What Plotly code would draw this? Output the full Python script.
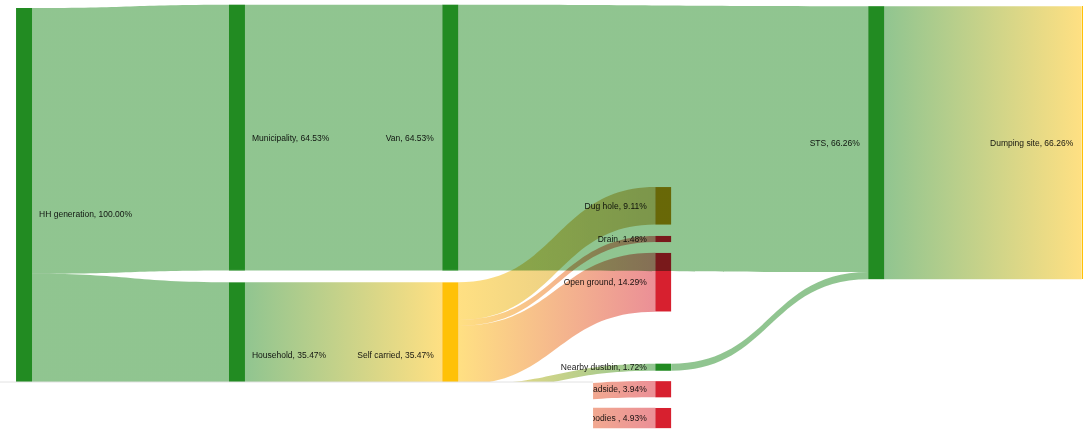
import json
import plotly.graph_objects as go

# ---------------- data ----------------
node_names = ["HH generation", "Municipality", "Household", "Van", "Self carried",
              "Dug hole", "Drain", "Open ground", "Nearby dustbin", "Roadside",
              "Water bodies ", "STS", "Dumping site"]
node_pct = [100.00, 64.53, 35.47, 64.53, 35.47, 9.11, 1.48, 14.29, 1.72, 3.94, 4.93, 66.26, 66.26]

link_source = [0, 0, 1, 2, 3, 4, 4, 4, 4, 4, 4, 8, 11]
link_target = [1, 2, 3, 4, 11, 5, 6, 7, 8, 9, 10, 11, 12]
link_value = [64.53, 35.47, 64.53, 35.47, 64.53, 9.11, 1.48, 14.29, 1.72, 3.94, 4.93, 1.72, 66.26]

# ---------------- styling ----------------
GREEN = "#228B22"
AMBER = "#FFC107"
GOLD = "#B8860B"
RED = "#D7202F"
node_colors = [GREEN, GREEN, GREEN, GREEN, AMBER, GOLD, RED, RED, GREEN, RED, RED, GREEN, AMBER]

# node centre positions (fraction of domain)
node_x = [0.0222, 0.2188, 0.2188, 0.4158, 0.4158, 0.6125, 0.6125, 0.6125,
          0.6125, 0.6125, 0.6125, 0.8091, 1.0062]
node_y = [0.4941, 0.3135, 0.8284, 0.3135, 0.8284, 0.4747, 0.5532, 0.6553,
          0.8563, 0.9083, 0.9764, 0.3255, 0.3255]
# label side: True -> label drawn to the left of the node
label_left = [False, False, False, True, True, True, True, True, True, True, True, True, True]


def rgba(hexc, a):
    h = hexc.lstrip("#")
    r, g, b = int(h[0:2], 16), int(h[2:4], 16), int(h[4:6], 16)
    return f"rgba({r},{g},{b},{a})"


labels = [f"{n}, {p:.2f}%" for n, p in zip(node_names, node_pct)]
link_colors = [rgba(node_colors[s], 0.5) for s in link_source]

fig = go.Figure(go.Sankey(
    arrangement="fixed",
    node=dict(
        label=labels,
        color=node_colors,
        x=node_x,
        y=node_y,
        pad=11,
        thickness=16,
        align="left",
        line=dict(width=0),
    ),
    link=dict(
        source=link_source,
        target=link_target,
        value=link_value,
        color=link_colors,
    ),
    textfont=dict(family="Liberation Sans, Arial, sans-serif", size=8.5, color="#222222", shadow="none"),
    hoverinfo="none",
))

# white cover (cropped screenshot region, bottom-left)
fig.add_shape(type="rect", xref="paper", yref="paper", x0=-0.01, x1=0.5476, y0=-0.05, y1=0.1087,
              fillcolor="white", line=dict(width=0), layer="above")
fig.add_shape(type="line", xref="paper", yref="paper", x0=-0.01, x1=0.5476, y0=0.1087, y1=0.1087,
              line=dict(color="#e2e2e2", width=1), layer="above")

fig.update_layout(
    width=1083, height=432,
    margin=dict(l=0, r=0, t=5, b=4),
    paper_bgcolor="white",
    plot_bgcolor="white",
)

src_cols = [node_colors[s] for s in link_source]
tgt_cols = [node_colors[t] for t in link_target]

post = """
document.body.style.margin='0';
(function(){
var gd = document.getElementById('{plot_id}');
var SRC = %s, TGT = %s, LEFT = %s;
var NS='http://www.w3.org/2000/svg';
var svg = gd.querySelector('svg.main-svg');
var defs = svg.querySelector('defs');
var links = gd.querySelectorAll('path.sankey-link');
links.forEach(function(p, i){
  var d = p.__data__; var k = (d && d.link && d.link.pointNumber !== undefined) ? d.link.pointNumber : i;
  var g = document.createElementNS(NS, 'linearGradient');
  g.setAttribute('id', 'lnkgrad' + i);
  g.setAttribute('x1', '0'); g.setAttribute('x2', '1'); g.setAttribute('y1', '0'); g.setAttribute('y2', '0');
  [[0, SRC[k]], [1, TGT[k]]].forEach(function(st){
    var e = document.createElementNS(NS, 'stop');
    e.setAttribute('offset', st[0]); e.setAttribute('stop-color', st[1]); g.appendChild(e);
  });
  defs.appendChild(g);
  p.style.fill = 'url(#lnkgrad' + i + ')';
  p.style.mixBlendMode = 'multiply';
});
gd.querySelectorAll('.sankey-node').forEach(function(n){ n.style.mixBlendMode = 'multiply'; });
gd.querySelectorAll('.node-label').forEach(function(t){
  var d = t.__data__; if(!d) return;
  var idx = (d.node && d.node.pointNumber !== undefined) ? d.node.pointNumber : d.index;
  var tr = t.getAttribute('transform') || '';
  var m = tr.match(/translate\\(([-\\d.e]+)[ ,]+([-\\d.e]+)\\)/);
  var y = m ? parseFloat(m[2]) : 0;
  var w = d.visibleWidth || 16;
  if (LEFT[idx]) {
    t.setAttribute('text-anchor', 'end');
    t.setAttribute('transform', 'translate(' + (-8.5) + ',' + y + ')');
  } else {
    t.setAttribute('text-anchor', 'start');
    t.setAttribute('transform', 'translate(' + (w + 7) + ',' + y + ')');
  }
});
})();
""" % (json.dumps(src_cols), json.dumps(tgt_cols), json.dumps(label_left))

fig.write_html("out.html", post_script=post, config={"displayModeBar": False})
